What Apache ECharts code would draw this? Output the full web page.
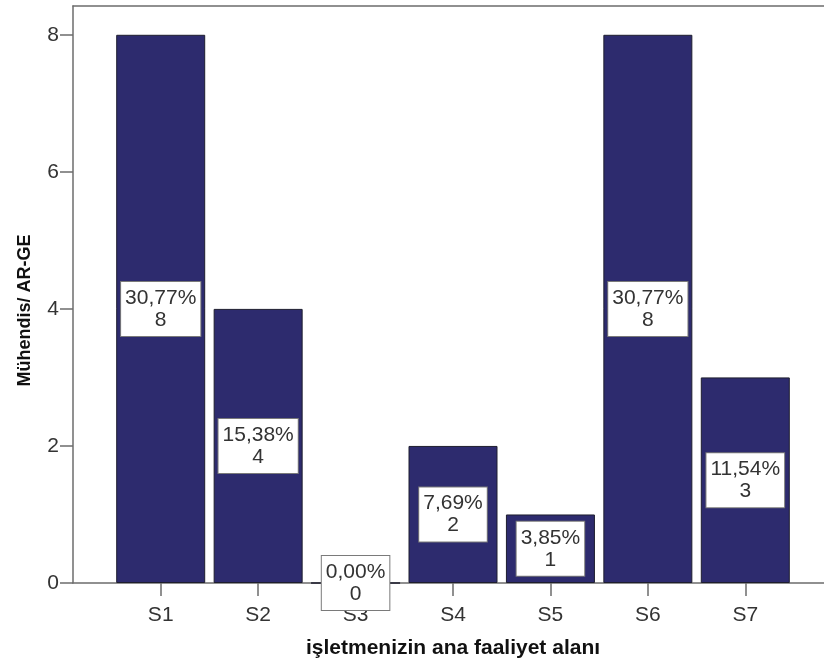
<!DOCTYPE html>
<html>
<head>
<meta charset="utf-8">
<script src="https://cdn.jsdelivr.net/npm/echarts@6/dist/echarts.min.js"></script>
<style>
html,body{margin:0;padding:0;background:#fff;}
#chart{width:824px;height:664px;}
</style>
</head>
<body>
<div id="chart"></div>
<script>
// ---- data ----
var categories = ['S1', 'S2', 'S3', 'S4', 'S5', 'S6', 'S7'];
var counts = [8, 4, 0, 2, 1, 8, 3];
var percentLabels = ['30,77%', '15,38%', '0,00%', '7,69%', '3,85%', '30,77%', '11,54%'];
var yTicks = [0, 2, 4, 6, 8];
var xTitle = 'işletmenizin ana faaliyet alanı';
var yTitle = 'Mühendis/ AR-GE';

var FONT = '"Liberation Sans", Arial, sans-serif';
var yMax = 8.42;
var axisGray = '#6c6c6c';
var frameLine = {show: true, onZero: false, lineStyle: {color: axisGray, width: 1.5}};

var chart = echarts.init(document.getElementById('chart'));
chart.setOption({
  animation: false,
  backgroundColor: '#ffffff',
  grid: [
    {left: 73, top: 6, right: 0, bottom: 81, outerBoundsMode: 'none', containLabel: false},
    {left: 112, top: 6, right: 30, bottom: 81, outerBoundsMode: 'none', containLabel: false}
  ],
  xAxis: [
    {gridIndex: 0, type: 'value', position: 'top', min: 0, max: 1,
     axisLine: frameLine, axisTick: {show: false}, axisLabel: {show: false}, splitLine: {show: false}},
    {
      gridIndex: 1, type: 'category', data: categories,
      axisLine: {show: false},
      axisTick: {show: true, alignWithLabel: true, length: 13, lineStyle: {color: axisGray, width: 1.5}},
      axisLabel: {margin: 22, fontFamily: FONT, fontSize: 21, color: '#333'},
      name: xTitle, nameLocation: 'middle', nameGap: 55,
      nameTextStyle: {fontFamily: FONT, fontSize: 21, fontWeight: 'bold', color: '#111'}
    },
    {gridIndex: 0, type: 'value', position: 'bottom', min: 0, max: 1,
     axisLine: frameLine, axisTick: {show: false}, axisLabel: {show: false}, splitLine: {show: false}}
  ],
  yAxis: [
    {
      gridIndex: 0, type: 'value', min: 0, max: yMax, interval: 2,
      axisLine: frameLine,
      axisTick: {show: true, length: 13, lineStyle: {color: axisGray, width: 1.5}},
      axisLabel: {showMaxLabel: false, margin: 14, fontFamily: FONT, fontSize: 21, color: '#333',
        formatter: function (v) { return yTicks.indexOf(v) >= 0 ? String(v) : ''; }},
      splitLine: {show: false},
      name: yTitle, nameLocation: 'middle', nameGap: 39,
      nameTextStyle: {fontFamily: FONT, fontSize: 18, fontWeight: 'bold', color: '#111', padding: [0, 32, 0, 0]}
    },
    {gridIndex: 1, type: 'value', min: 0, max: yMax, show: false}
  ],
  series: [{
    type: 'bar',
    xAxisIndex: 1, yAxisIndex: 1,
    data: counts,
    barWidth: 89,
    itemStyle: {color: '#2d2b6e', borderColor: '#1e1e2e', borderWidth: 1},
    label: {
      show: true, position: 'inside',
      formatter: function (p) { return percentLabels[p.dataIndex] + '\n' + counts[p.dataIndex]; },
      fontFamily: FONT, fontSize: 21, lineHeight: 22, color: '#333', align: 'center',
      backgroundColor: '#ffffff', borderColor: '#7a7a7a', borderWidth: 1, padding: [5, 4, 5, 4]
    }
  }]
});
</script>
</body>
</html>
